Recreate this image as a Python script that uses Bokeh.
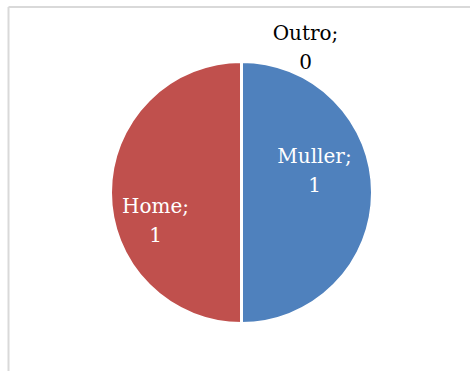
import numpy as np
from bokeh.plotting import figure
from bokeh.models import ColumnDataSource
from bokeh.core.properties import value
from bokeh.embed import file_html
from bokeh.resources import INLINE

# ---- data ----
categories = ["Outro", "Muller", "Home"]
values = [0, 1, 1]
colors = ["#9BBB59", "#4F81BD", "#C0504D"]
label_texts = [f"{c};\n{v}" for c, v in zip(categories, values)]

# ---- layout / style ----
W, H = 470, 371
cx, cy, R = 241, 179, 131
label_pos_x = [305, 314, 155]
label_pos_y = [324, 201, 151]
label_colors = ["black", "white", "white"]

vals = np.array(values, dtype=float)
frac = vals / vals.sum()
start_deg = 90.0
ends = start_deg - np.cumsum(frac) * 360.0
starts = np.concatenate([[start_deg], ends[:-1]])

src = ColumnDataSource(dict(
    cat=categories,
    start=np.deg2rad(ends),
    end=np.deg2rad(starts),
    color=colors,
))

p = figure(width=W, height=H, x_range=(0, W), y_range=(0, H),
           output_backend="svg", toolbar_location=None, min_border=0)
p.axis.visible = False
p.grid.visible = False
p.outline_line_color = None
p.background_fill_color = "white"
p.border_fill_color = "white"

p.wedge(x=cx, y=cy, radius=R, start_angle="start", end_angle="end",
        fill_color="color", line_color="white", line_width=3, source=src)

lsrc = ColumnDataSource(dict(x=label_pos_x, y=label_pos_y, t=label_texts, c=label_colors))
p.text(x="x", y="y", text="t", text_color="c", source=lsrc,
       text_font=value("DejaVu Serif"), text_font_size="20px",
       text_align="center", text_baseline="middle", text_line_height=1.2)

# chart-area border (top and left edges visible)
bx = 8
by = H - 6.5
p.segment(x0=[bx, bx], y0=[by, by], x1=[W, bx], y1=[by, 0],
          line_color="#d9d9d9", line_width=2)

open("out.html", "w").write(file_html(p, INLINE))
